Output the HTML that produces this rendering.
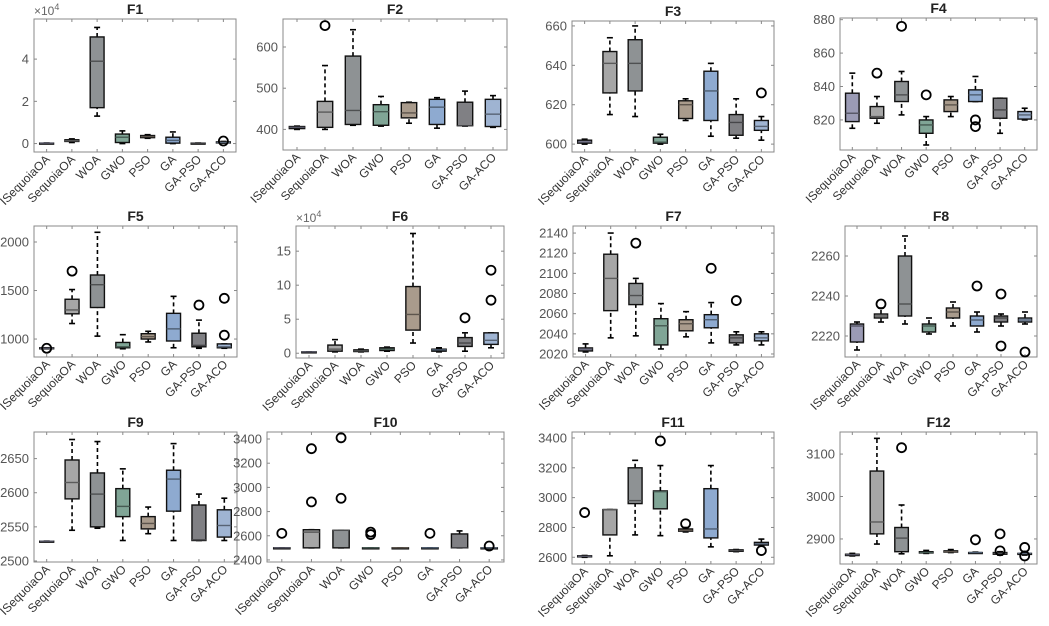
<!DOCTYPE html>
<html><head><meta charset="utf-8"><style>
html,body{margin:0;padding:0;background:#fff;}
svg{display:block;font-family:"Liberation Sans",Arial,sans-serif;}
</style></head><body>
<svg id="c" width="1049" height="626" viewBox="0 0 1049 626"></svg>
<script>
const categories=["ISequoiaOA","SequoiaOA","WOA","GWO","PSO","GA","GA-PSO","GA-ACO"];
const colors=["#9b9bb5","#a6a6a6","#8e9294","#80a596","#a99b8c","#8eaad0","#808084","#9fb4d2"];
// stats per panel: [low whisker, q1, median, q3, high whisker, ...outliers]
const F1=[[0.02,0.02,0.02,0.02,0.02],[0.05,0.1,0.13,0.18,0.22],[1.3,1.7,3.9,5.05,5.5],[0,0.05,0.3,0.45,0.6],[0.25,0.28,0.33,0.38,0.42],[0,0.02,0.15,0.3,0.55],[0.02,0.02,0.02,0.02,0.02],[0.02,0.03,0.05,0.08,0.1,0.12]];
const F2=[[400,402,405,407,408],[400,405,442,468,555,652],[410,412,446,578,642],[408,410,443,460,480],[415,428,440,465,466],[403,412,454,473,477],[408,409,409,466,493],[405,407,437,473,482]];
const F3=[[600,600.5,601,602,602.5],[615,626,641,647,654],[614,627,641,653,660],[600,600.5,601,603.5,605],[612,613,620,622,623],[604,612,627,637,641],[603,604.5,611,615,623],[602,607,609,612,614,626]];
const F4=[[815,819,824,836,848],[818,821,822,828,834,848],[823,831,835,843,849,876],[805,812,817,820,822,835],[822,825,829,832,834],[831,831,835,838,846,820,816],[812,821,826,833,833],[820,820.5,823,825,827]];
const F5=[[900,900,905,910,910,905],[1160,1260,1300,1410,1510,1700],[1030,1325,1560,1660,2100],[900,910,920,965,1045],[970,1000,1025,1055,1080],[910,980,1105,1265,1440],[905,920,935,1060,1195,1350],[905,910,920,950,950,1420,1040]];
const F6=[[0.2,0.2,0.2,0.2,0.2],[0.2,0.3,0.6,1.2,2],[0.2,0.25,0.35,0.5,0.6],[0.3,0.4,0.6,0.8,0.9],[1.5,3.4,5.7,9.8,17.6],[0.2,0.3,0.5,0.6,0.8],[0.3,1.0,1.5,2.3,3.0,5.2],[0.8,1.3,1.9,3.0,3.0,12.2,7.8]];
const F7=[[2022,2023,2025,2026,2030],[2036,2063,2095,2119,2140],[2038,2069,2078,2090,2095,2130],[2025,2029,2048,2055,2070],[2037,2043,2050,2054,2062],[2031,2046,2054,2059,2071,2105],[2029,2031,2036,2039,2042,2073],[2029,2033,2036,2040,2042]];
const F8=[[2213,2217,2225,2226,2227],[2227,2229,2230,2231,2234,2236],[2226,2230,2236,2260,2270],[2221,2222,2225,2226,2229],[2225,2229,2232,2234,2237],[2222,2225,2228,2230,2232,2245],[2225,2227,2229,2230,2231,2241,2215],[2226,2227,2228,2229,2232,2212]];
const F9=[[2529,2529,2529,2529,2529],[2545,2591,2615,2648,2678],[2548,2550,2598,2629,2675],[2530,2565,2580,2606,2635],[2540,2547,2555,2565,2579],[2530,2573,2620,2633,2672],[2530,2530,2531,2582,2598],[2530,2535,2552,2575,2592]];
const F10=[[2500,2500,2500,2500,2500,2620],[2500,2500,2630,2650,2650,3320,2880],[2500,2500,2645,2645,2645,3410,2910],[2500,2500,2500,2500,2500,2630,2610],[2500,2500,2500,2500,2500],[2500,2500,2500,2500,2500,2620],[2500,2500,2500,2615,2640],[2500,2500,2500,2500,2500,2515]];
const F11=[[2600,2603,2606,2610,2612,2900],[2610,2750,2920,2920,2920],[2750,2960,2980,3200,3250],[2745,2925,3040,3045,3215,3380],[2770,2775,2780,2790,2800,2825],[2670,2730,2790,3060,3215],[2638,2640,2645,2650,2652],[2678,2682,2690,2700,2722,2645]];
const F12=[[2860,2861,2863,2864,2866],[2888,2912,2940,3060,3137],[2865,2870,2902,2927,2980,3115],[2866,2867,2868,2870,2873],[2868,2869,2870,2872,2875],[2867,2868,2868,2868,2869,2898],[2862,2864,2866,2868,2870,2912,2872],[2862,2864,2866,2866,2867,2880,2860]];
const ticks1=[0,2,4],ticks2=[400,500,600],ticks3=[600,620,640,660],ticks4=[820,840,860,880],ticks5=[1000,1500,2000],ticks6=[0,5,10,15],ticks7=[2020,2040,2060,2080,2100,2120,2140],ticks8=[2220,2240,2260],ticks9=[2500,2550,2600,2650],ticks10=[2400,2600,2800,3000,3200,3400],ticks11=[2600,2800,3000,3200,3400],ticks12=[2900,3000,3100];
const panels=[
{t:"F1",d:F1,tk:ticks1,ylim:[-0.4,5.9],box:[34,19,236,152],exp:true},
{t:"F2",d:F2,tk:ticks2,ylim:[350,668],box:[283,19,507,150]},
{t:"F3",d:F3,tk:ticks3,ylim:[596,662.5],box:[572,21,774,152]},
{t:"F4",d:F4,tk:ticks4,ylim:[802,881],box:[840,18,1037,150]},
{t:"F5",d:F5,tk:ticks5,ylim:[815,2165],box:[34,226,237,357]},
{t:"F6",d:F6,tk:ticks6,ylim:[-0.7,18.7],box:[296,226,504,358],exp:true},
{t:"F7",d:F7,tk:ticks7,ylim:[2017,2147],box:[573,226,774,357]},
{t:"F8",d:F8,tk:ticks8,ylim:[2209.5,2275],box:[845,226,1037,357]},
{t:"F9",d:F9,tk:ticks9,ylim:[2498.5,2689],box:[34,432,237,562]},
{t:"F10",d:F10,tk:ticks10,ylim:[2383,3458],box:[267,432,504,562]},
{t:"F11",d:F11,tk:ticks11,ylim:[2555,3440],box:[572,432,774,564]},
{t:"F12",d:F12,tk:ticks12,ylim:[2841,3152],box:[840,432,1037,564]}];
const NS="http://www.w3.org/2000/svg",svg=document.getElementById('c');
function mk(tag,at,par){const e=document.createElementNS(NS,tag);for(const k in at)e.setAttribute(k,at[k]);(par||svg).appendChild(e);return e;}
function darker(c){const n=parseInt(c.slice(1),16);const f=v=>Math.round(v*0.55);return `rgb(${f(n>>16)},${f((n>>8)&255)},${f(n&255)})`;}
panels.forEach(p=>{
  const [L,T,R,B]=p.box,W=R-L;
  const g=mk('g',{});
  
  
  const y=v=>B-(v-p.ylim[0])/(p.ylim[1]-p.ylim[0])*(B-T);
  const x=i=>L+(i+0.5)*W/8;
  const bw=W/8*0.55;
  const ttl=mk('text',{x:(L+R)/2,y:T-5,'text-anchor':'middle','font-size':14,'font-weight':'bold',fill:'#222'},g);ttl.textContent=p.t;
  
  
  if(p.exp){const e=mk('text',{x:L,y:T-4,'font-size':12,fill:'#666'},g);e.innerHTML='×10<tspan dy="-5" font-size="9">4</tspan>';
    
    }
  mk('rect',{x:L,y:T,width:W,height:B-T,fill:'#fff',stroke:'#888','stroke-width':1},g);
  p.tk.forEach(v=>{const yy=y(v);
    mk('line',{x1:L,x2:L+3,y1:yy,y2:yy,stroke:'#888'},g);mk('line',{x1:R-3,x2:R,y1:yy,y2:yy,stroke:'#888'},g);
    const t=mk('text',{x:L-5,y:yy+4.5,'text-anchor':'end','font-size':13,fill:'#555'},g);t.textContent=v;
    
    });
  categories.forEach((c,i)=>{const xx=x(i);
    mk('line',{x1:xx,x2:xx,y1:B,y2:B-3,stroke:'#888'},g);mk('line',{x1:xx,x2:xx,y1:T,y2:T+3,stroke:'#888'},g);
    const t=mk('text',{x:0,y:0,'text-anchor':'end','font-size':12,fill:'#333',transform:`translate(${xx+4},${B+8}) rotate(-45)`},g);t.textContent=c;
    
    
    const s=p.d[i];
    const bg=mk('g',{},g);
    
    
    mk('line',{x1:xx,x2:xx,y1:y(s[0]),y2:y(s[1]),stroke:'#000','stroke-width':1.6,'stroke-dasharray':'4,3'},bg);
    mk('line',{x1:xx,x2:xx,y1:y(s[3]),y2:y(s[4]),stroke:'#000','stroke-width':1.6,'stroke-dasharray':'4,3'},bg);
    mk('line',{x1:xx-3,x2:xx+3,y1:y(s[0]),y2:y(s[0]),stroke:'#000','stroke-width':1.6},bg);
    mk('line',{x1:xx-3,x2:xx+3,y1:y(s[4]),y2:y(s[4]),stroke:'#000','stroke-width':1.6},bg);
    const h=Math.max(y(s[1])-y(s[3]),1);
    mk('rect',{x:xx-bw/2,y:y(s[3]),width:bw,height:h,fill:colors[i],stroke:'#111','stroke-width':1.4},bg);
    mk('line',{x1:xx-bw/2,x2:xx+bw/2,y1:y(s[2]),y2:y(s[2]),stroke:darker(colors[i]),'stroke-width':1.4},bg);
    for(let k=5;k<s.length;k++){mk('circle',{cx:xx,cy:y(s[k]),r:4.5,fill:'none',stroke:'#000','stroke-width':1.8},bg);}
  });
});
</script>
</body></html>
